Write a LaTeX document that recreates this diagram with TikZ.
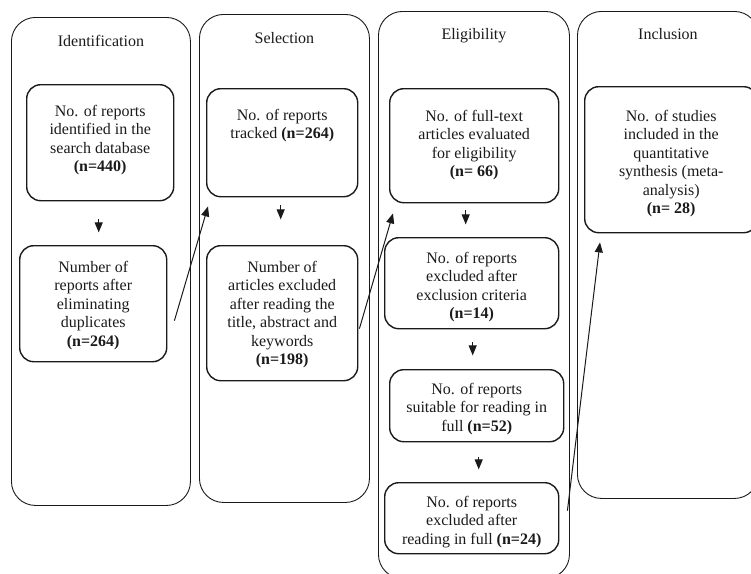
\documentclass[tikz,border=0pt]{standalone}
\usepackage{fontspec}
\setmainfont{Liberation Serif}
\usetikzlibrary{arrows.meta,positioning,calc}
\definecolor{cInk}{HTML}{1A1A1A}
\tikzset{
  col/.style={draw=cInk,rounded corners=24pt,line width=0.9pt,anchor=north west,inner sep=0pt},
  cbox/.style={draw=cInk,rounded corners=14pt,line width=1.4pt,anchor=north west,inner sep=0pt},
  ttl/.style={font=\fontsize{16}{18.4}\selectfont,text=cInk,inner sep=0pt},
  txt/.style={font=\fontsize{16}{18.4}\selectfont,text=cInk,align=center,inner sep=0pt},
  arr/.style={-{Triangle[length=10pt,width=8pt]},line width=1pt,color=cInk},
}

\begin{document}
\begin{tikzpicture}[x=1pt,y=-1pt]
  \useasboundingbox (0,0) rectangle (751,573);
  % phase columns
  \node[col,minimum width=179pt,minimum height=488pt] (cId) at (11,17) {};
  \node[col,minimum width=170pt,minimum height=488pt] (cSel) at (199,14) {};
  \node[col,minimum width=191pt,minimum height=567pt] (cElig) at (378,11) {};
  \node[col,minimum width=181pt,minimum height=487pt] (cInc) at (577,11) {};
  \node[ttl,below=18pt of cId.north] (tId) {Identification};
  \node[ttl,below=18pt of cSel.north] (tSel) {Selection};
  \node[ttl,below=17pt of cElig.north] (tElig) {Eligibility};
  \node[ttl,below=17pt of cInc.north] (tInc) {Inclusion};

  % boxes
  \node[cbox,minimum width=147pt,minimum height=116pt] (id1) at (26,84) {};
  \node[cbox,minimum width=147pt,minimum height=116pt] (id2) at (19,245) {};
  \node[cbox,minimum width=151pt,minimum height=108pt] (sel1) at (206,88) {};
  \node[cbox,minimum width=151pt,minimum height=135pt] (sel2) at (206,245) {};
  \node[cbox,minimum width=169pt,minimum height=114pt] (el1) at (389,88) {};
  \node[cbox,minimum width=174pt,minimum height=91pt] (el2) at (384,237) {};
  \node[cbox,minimum width=174pt,minimum height=72pt] (el3) at (389,369) {};
  \node[cbox,minimum width=174pt,minimum height=71pt] (el4) at (384,482) {};
  \node[cbox,minimum width=173pt,minimum height=146pt] (inc1) at (584,86) {};

  \node[txt,below=21pt of id1.north] (id1t) {No. of reports\\identified in the\\search database\\\textbf{(n=440)}};
  \node[txt,below=16pt of id2.north] (id2t) {Number of\\reports after\\eliminating\\duplicates\\\textbf{(n=264)}};
  \node[txt,below=21pt of sel1.north] (sel1t) {No. of reports\\tracked \textbf{(n=264)}};
  \node[txt,below=16pt of sel2.north] (sel2t) {Number of\\articles excluded\\after reading the\\title, abstract and\\keywords\\\textbf{(n=198)}};
  \node[txt,below=22pt of el1.north] (el1t) {No. of full-text\\articles evaluated\\for eligibility\\\textbf{(n= 66)}};
  \node[txt,below=15pt of el2.north] (el2t) {No. of reports\\excluded after\\exclusion criteria\\\textbf{(n=14)}};
  \node[txt,below=14pt of el3.north] (el3t) {No. of reports\\suitable for reading in\\full \textbf{(n=52)}};
  \node[txt,below=14pt of el4.north] (el4t) {No. of reports\\excluded after\\reading in full \textbf{(n=24)}};
  \node[txt,below=24pt of inc1.north] (inc1t) {No. of studies\\included in the\\quantitative\\synthesis (meta-\\analysis)\\\textbf{(n= 28)}};

  % arrows
  \draw[arr] ($(id1.south)+(-1.5,18)$) -- ++(0,13);
  \draw[arr] ($(sel1.south)+(-1.5,8)$) -- ++(0,14);
  \draw[arr] ($(el1.south)+(-8.5,7)$) -- ++(0,14);
  \draw[arr] ($(el2.south)+(1,13)$) -- ++(0,13);
  \draw[arr] ($(el3.south)+(2,15)$) -- ++(0,12);
  \draw[arr] ($(id2.east)+(7,17)$) -- ($(sel1.south west)+(2,9)$);
  \draw[arr] ($(sel2.east)+(1,15.5)$) -- ($(el1.south west)+(4,10)$);
  \draw[arr] ($(el4.east)+(8,-7.5)$) -- ($(inc1.south west)+(16,9)$);
\end{tikzpicture}
\end{document}
